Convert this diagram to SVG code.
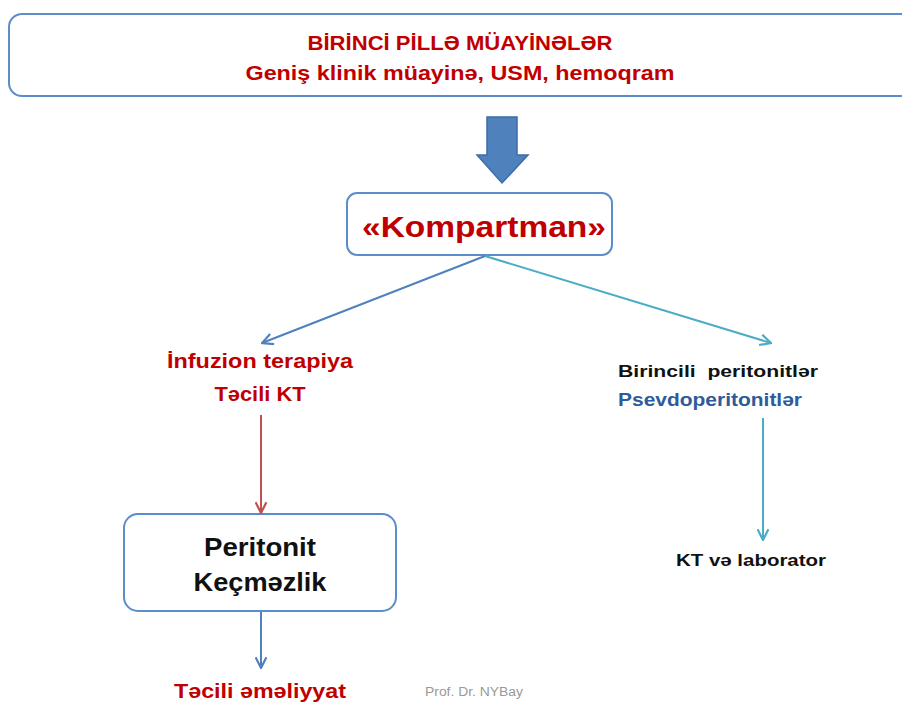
<svg xmlns="http://www.w3.org/2000/svg" width="902" height="702" viewBox="0 0 902 702">
<defs>
<style>
.t{font-family:"Liberation Sans","Open Sans",Arial,sans-serif;font-weight:bold;text-anchor:middle}
.red{fill:#c00000}
.blk{fill:#111}
.box{fill:#fff;stroke:#5b8ccc;stroke-width:2}
</style>
<marker id="ab" viewBox="0 0 12 12" refX="11" refY="6" markerWidth="13" markerHeight="13" markerUnits="userSpaceOnUse" orient="auto"><path d="M1,1 L11,6 L1,11" fill="none" stroke="#4f81bd" stroke-width="2"/></marker>
<marker id="at" viewBox="0 0 12 12" refX="11" refY="6" markerWidth="13" markerHeight="13" markerUnits="userSpaceOnUse" orient="auto"><path d="M1,1 L11,6 L1,11" fill="none" stroke="#4bacc6" stroke-width="2"/></marker>
<marker id="ar" viewBox="0 0 12 12" refX="11" refY="6" markerWidth="13" markerHeight="13" markerUnits="userSpaceOnUse" orient="auto"><path d="M1,1 L11,6 L1,11" fill="none" stroke="#c0504d" stroke-width="2"/></marker>
</defs>
<rect width="902" height="702" fill="#fff"/>
<g id="top">
<rect class="box" x="9" y="14" width="910" height="82" rx="13"/>
<text class="t red" x="460" y="50" font-size="20.5" textLength="305" lengthAdjust="spacingAndGlyphs">BİRİNCİ PİLLƏ MÜAYİNƏLƏR</text>
<text class="t red" x="460" y="80" font-size="20.5" textLength="429" lengthAdjust="spacingAndGlyphs">Geniş klinik müayinə, USM, hemoqram</text>
</g>
<g id="bigarrow">
<path d="M487,117 H517 V155 H528 L502,183 L477,155 H487 Z" fill="#4f81bd" stroke="#3d6ca6" stroke-width="1.5"/>
</g>
<g id="kompartman">
<rect class="box" x="347" y="193" width="265" height="62" rx="10"/>
<text class="t red" x="484" y="237" font-size="30" textLength="244" lengthAdjust="spacingAndGlyphs">«Kompartman»</text>
</g>
<g id="infuzion">
<text class="t red" x="260" y="368" font-size="19.5" textLength="186" lengthAdjust="spacingAndGlyphs">İnfuzion terapiya</text>
<text class="t red" x="260" y="401" font-size="19.5" textLength="91" lengthAdjust="spacingAndGlyphs">Təcili KT</text>
</g>
<g id="peritonit">
<rect class="box" x="124" y="514" width="272" height="97" rx="14"/>
<text class="t blk" x="260" y="556" font-size="25" textLength="112" lengthAdjust="spacingAndGlyphs">Peritonit</text>
<text class="t blk" x="260" y="591" font-size="25" textLength="133" lengthAdjust="spacingAndGlyphs">Keçməzlik</text>
</g>
<g id="emeliyyat">
<text class="t red" x="260" y="698" font-size="20.5" textLength="172" lengthAdjust="spacingAndGlyphs">Təcili əməliyyat</text>
</g>
<g id="birincili">
<text class="t blk" x="718" y="377" font-size="17" textLength="200" lengthAdjust="spacingAndGlyphs" style="white-space:pre">Birincili  peritonitlər</text>
<text class="t" x="710" y="406" font-size="18" fill="#2e5c9a" textLength="184" lengthAdjust="spacingAndGlyphs">Psevdoperitonitlər</text>
</g>
<g id="ktlab">
<text class="t blk" x="751" y="566" font-size="17" textLength="150" lengthAdjust="spacingAndGlyphs">KT və laborator</text>
</g>
<g id="footer">
<text x="474" y="696" font-family="'Liberation Sans',Arial,sans-serif" font-size="12.5" fill="#999" text-anchor="middle" textLength="98" lengthAdjust="spacingAndGlyphs">Prof. Dr. NYBay</text>
</g>
<g id="connectors" fill="none" stroke-width="2">
<line x1="485" y1="256" x2="262" y2="343" stroke="#4f81bd" marker-end="url(#ab)"/>
<line x1="485" y1="256" x2="771" y2="343" stroke="#4bacc6" marker-end="url(#at)"/>
<line x1="261" y1="415" x2="261" y2="513" stroke="#c0504d" marker-end="url(#ar)"/>
<line x1="261" y1="612" x2="261" y2="668" stroke="#4f81bd" marker-end="url(#ab)"/>
<line x1="763" y1="418" x2="763" y2="540" stroke="#4bacc6" marker-end="url(#at)"/>
</g>
</svg>
